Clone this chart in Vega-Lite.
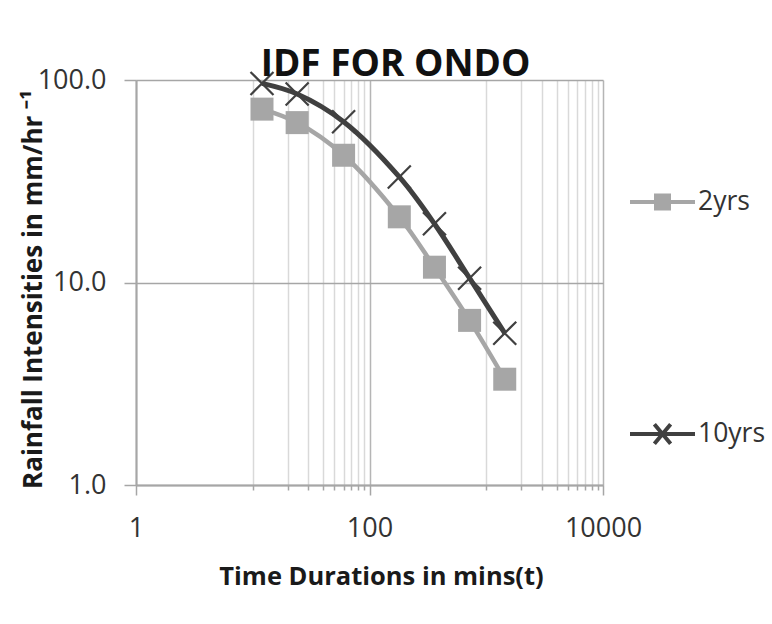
{
  "$schema": "https://vega.github.io/schema/vega-lite/v6.json",
  "width": 467,
  "height": 405,
  "autosize": {"type": "none"},
  "padding": {"left": 136, "top": 80, "right": 169, "bottom": 139},
  "background": "white",
  "config": {"view": {"stroke": null}, "font": "Open Sans"},
  "title": {
    "text": "IDF FOR ONDO",
    "font": "Open Sans",
    "fontSize": 37,
    "fontWeight": "bold",
    "color": "#111111",
    "anchor": "middle",
    "dx": 26,
    "offset": -47,
    "baseline": "alphabetic"
  },
  "data": {
    "values": [
      {"t": 12, "intensity": 71.8, "series": "2yrs"},
      {"t": 24, "intensity": 61.6, "series": "2yrs"},
      {"t": 60, "intensity": 42.5, "series": "2yrs"},
      {"t": 180, "intensity": 21.1, "series": "2yrs"},
      {"t": 360, "intensity": 11.9, "series": "2yrs"},
      {"t": 720, "intensity": 6.5, "series": "2yrs"},
      {"t": 1440, "intensity": 3.33, "series": "2yrs"},
      {"t": 12, "intensity": 96.2, "series": "10yrs"},
      {"t": 24, "intensity": 85.3, "series": "10yrs"},
      {"t": 60, "intensity": 62.2, "series": "10yrs"},
      {"t": 180, "intensity": 33.2, "series": "10yrs"},
      {"t": 360, "intensity": 19.5, "series": "10yrs"},
      {"t": 720, "intensity": 10.5, "series": "10yrs"},
      {"t": 1440, "intensity": 5.62, "series": "10yrs"}
    ]
  },
  "encoding": {
    "x": {
      "field": "t", "type": "quantitative",
      "scale": {"type": "log", "domain": [1, 10000], "nice": false},
      "axis": {
        "orient": "bottom",
        "values": [1, 10, 20, 30, 40, 50, 60, 70, 80, 90, 100, 1000, 2000, 3000, 4000, 5000, 6000, 7000, 8000, 9000, 10000],
        "labelExpr": "(datum.value === 1 || datum.value === 100 || datum.value === 10000) ? format(datum.value, 'd') : ''",
        "labelOverlap": false, "labelBound": false, "labelFlush": false,
        "grid": true,
        "gridColor": {"condition": {"test": "datum.value === 1 || datum.value === 100 || datum.value === 10000", "value": "#b5b5b5"}, "value": "#d9d9d9"},
        "gridWidth": 1.5,
        "ticks": true,
        "tickSize": {"condition": {"test": "datum.value === 1 || datum.value === 100 || datum.value === 10000", "value": 10}, "value": 5},
        "tickColor": "#a6a6a6", "tickWidth": 1.5,
        "domain": true, "domainColor": "#a6a6a6", "domainWidth": 2,
        "labelPadding": 20, "labelFont": "Open Sans", "labelFontSize": 27, "labelColor": "#333333",
        "title": "Time Durations in mins(t)",
        "titleFont": "Open Sans", "titleFontSize": 25.5, "titleFontWeight": "bold", "titleColor": "#1a1a1a",
        "titleX": 245, "titleY": 99, "titleAlign": "center", "titleBaseline": "alphabetic"
      }
    },
    "y": {
      "field": "intensity", "type": "quantitative",
      "scale": {"type": "log", "domain": [1, 100], "nice": false},
      "axis": {
        "orient": "left",
        "values": [1, 10, 100], "format": ".1f",
        "grid": true, "gridColor": "#a6a6a6", "gridWidth": 1.5,
        "domain": true, "domainColor": "#a6a6a6", "domainWidth": 2,
        "ticks": true, "tickSize": 12, "tickColor": "#a6a6a6", "tickWidth": 1.5,
        "labelPadding": 18, "labelFont": "Open Sans", "labelFontSize": 27, "labelColor": "#333333",
        "labelOverlap": false, "labelBound": false, "labelFlush": false,
        "title": "Rainfall Intensities in mm/hr ⁻¹",
        "titleFont": "Open Sans", "titleFontSize": 26, "titleFontWeight": "bold", "titleColor": "#1a1a1a",
        "titleX": -95, "titleY": 209, "titleAngle": -90, "titleAlign": "center", "titleBaseline": "alphabetic"
      }
    }
  },
  "layer": [
    {
      "transform": [{"filter": "datum.series === '2yrs'"}],
      "mark": {"type": "line", "interpolate": "catmull-rom", "strokeWidth": 4.5, "color": "#a6a6a6"}
    },
    {
      "transform": [{"filter": "datum.series === '2yrs'"}],
      "mark": {"type": "point", "shape": "square", "filled": true, "size": 529, "color": "#a6a6a6", "opacity": 1}
    },
    {
      "transform": [{"filter": "datum.series === '10yrs'"}],
      "mark": {"type": "line", "interpolate": "catmull-rom", "strokeWidth": 5, "color": "#404040"}
    },
    {
      "transform": [{"filter": "datum.series === '10yrs'"}],
      "mark": {"type": "point", "shape": "M-1,-1L1,1M-1,1L1,-1", "filled": false, "size": 529, "stroke": "#404040", "strokeWidth": 2.2, "opacity": 1}
    },
    {
      "transform": [{"filter": "datum.t < 0"}],
      "mark": {"type": "point", "filled": true, "opacity": 1},
      "encoding": {
        "color": {
          "field": "series", "type": "nominal",
          "scale": {"domain": ["2yrs", "10yrs"], "range": ["#a6a6a6", "#404040"]},
          "legend": {"title": null, "orient": "none", "legendX": 492, "legendY": 87.5, "padding": 0, "rowPadding": 183, "symbolSize": 4225, "symbolStrokeWidth": 4, "labelOffset": 1, "labelFont": "Open Sans", "labelFontSize": 26.5, "labelColor": "#333333"}
        },
        "stroke": {
          "field": "series", "type": "nominal",
          "scale": {"domain": ["2yrs", "10yrs"], "range": ["#a6a6a6", "#404040"]},
          "legend": {"title": null, "orient": "none", "legendX": 492, "legendY": 87.5, "padding": 0, "rowPadding": 183, "symbolSize": 4225, "symbolStrokeWidth": 4, "labelOffset": 1, "labelFont": "Open Sans", "labelFontSize": 26.5, "labelColor": "#333333"}
        },
        "shape": {
          "field": "series", "type": "nominal",
          "scale": {"domain": ["2yrs", "10yrs"], "range": ["M-1,0H1M-0.2,-0.2H0.2V0.2H-0.2Z", "M-1,0H1M-0.25,-0.3L0.25,0.3M-0.25,0.3L0.25,-0.3"]},
          "legend": {"title": null, "orient": "none", "legendX": 492, "legendY": 87.5, "padding": 0, "rowPadding": 183, "symbolSize": 4225, "symbolStrokeWidth": 4, "labelOffset": 1, "labelFont": "Open Sans", "labelFontSize": 26.5, "labelColor": "#333333"}
        }
      }
    }
  ]
}
